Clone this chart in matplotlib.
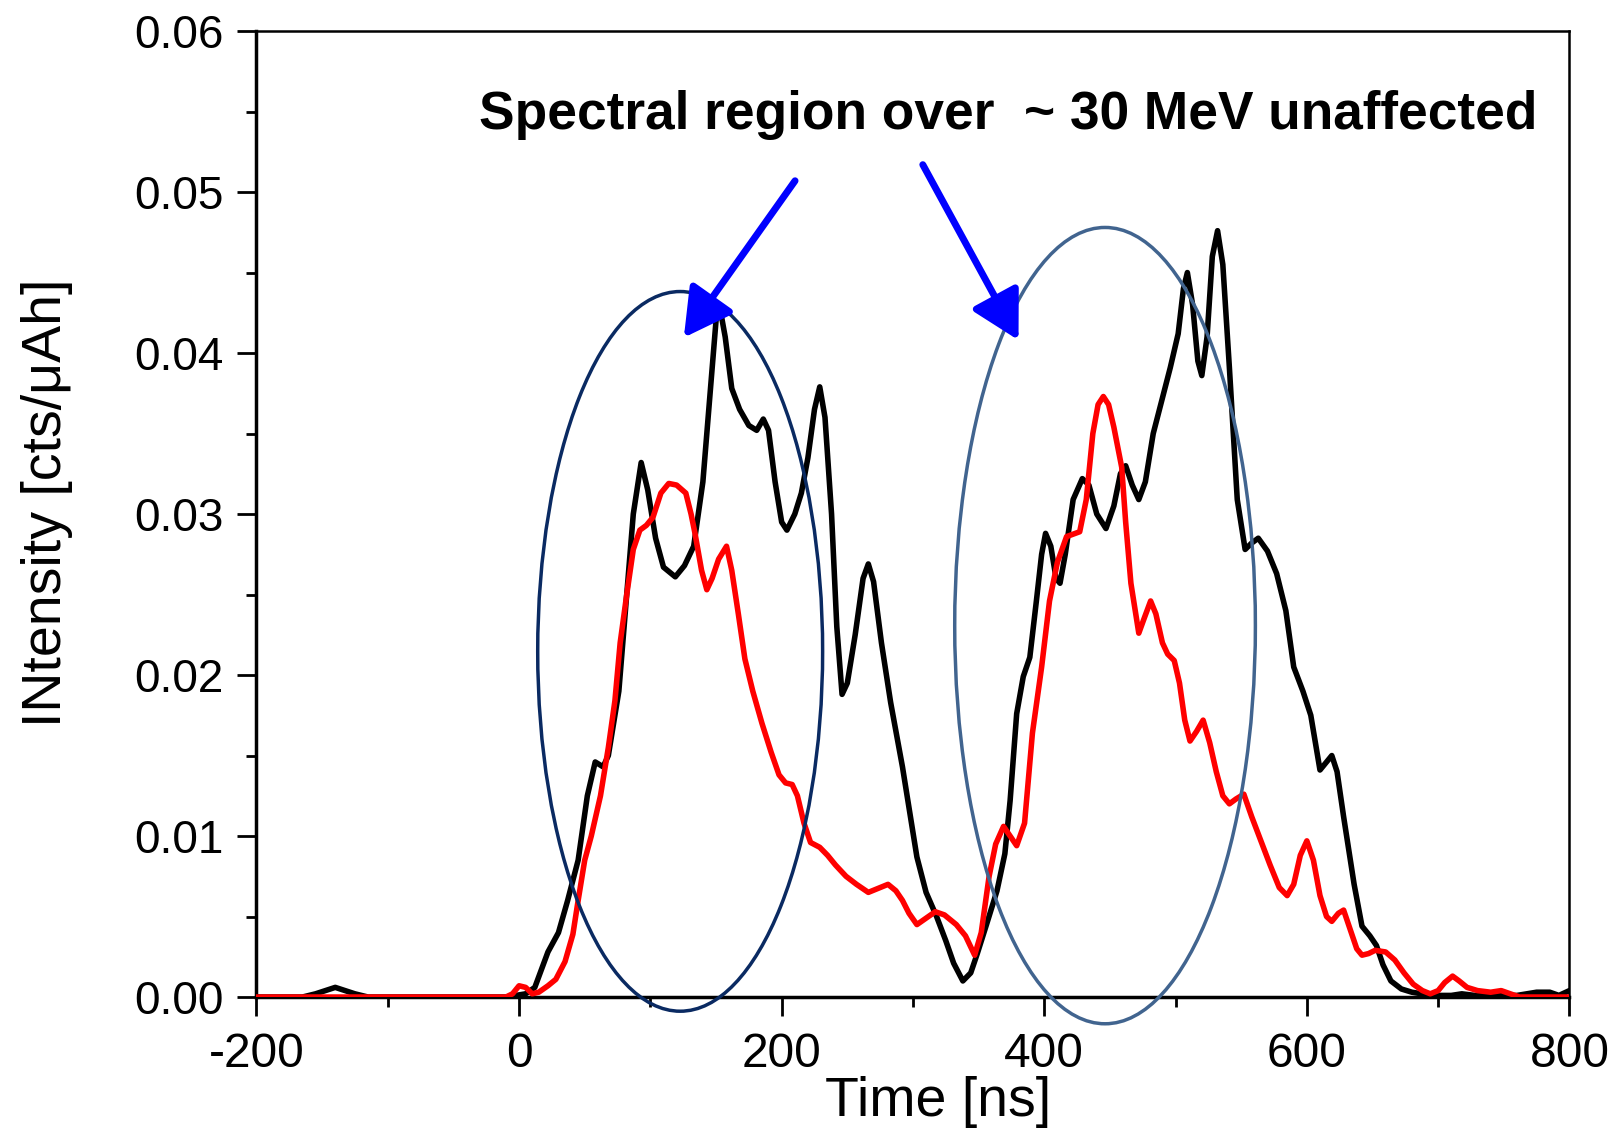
import matplotlib
matplotlib.use("Agg")
import matplotlib.pyplot as plt
from matplotlib.patches import Ellipse
from matplotlib.ticker import MultipleLocator, FormatStrFormatter

plt.rcParams['font.family'] = ['Liberation Sans', 'DejaVu Sans']
plt.rcParams['axes.unicode_minus'] = False

# Time axis [ns] and intensity [cts/uAh]
t_black = [-200, -165, -155, -140, -125, -115, -10, 5, 12, 22, 30, 37, 45, 52, 58, 64,
           68, 76, 82, 87, 93, 98, 104, 110, 119, 126, 133, 140, 146, 150, 153, 157,
           162, 168, 175, 181, 186, 190, 195, 200, 204, 210, 215, 220, 225, 229, 233,
           238, 242, 246, 250, 256, 262, 266, 270, 276, 283, 292, 303, 310, 318, 325,
           331, 338, 344, 349, 356, 364, 370, 374, 379, 384, 389, 394, 398, 401, 405,
           409, 412, 416, 422, 429, 434, 440, 447, 453, 458, 462, 467, 472, 477, 483,
           490, 496, 502, 506, 509, 513, 517, 520, 524, 528, 532, 536, 541, 547, 553,
           558, 563, 570, 577, 584, 590, 597, 603, 610, 615, 619, 623, 628, 636, 642,
           648, 653, 658, 664, 672, 680, 695, 710, 718, 728, 760, 775, 785, 792, 800]
i_black = [0, 0, 0.0002, 0.0006, 0.0002, 0, 0, 0.0002, 0.0006, 0.0028, 0.0040, 0.0060,
           0.0085, 0.0125, 0.0146, 0.0143, 0.0150, 0.0190, 0.0250, 0.0300, 0.0332,
           0.0315, 0.0285, 0.0267, 0.0261, 0.0268, 0.0280, 0.0320, 0.0380, 0.0420,
           0.0428, 0.0410, 0.0378, 0.0365, 0.0355, 0.0352, 0.0359, 0.0352, 0.0320,
           0.0295, 0.0290, 0.0300, 0.0313, 0.0335, 0.0365, 0.0379, 0.0360, 0.0300,
           0.0230, 0.0188, 0.0195, 0.0225, 0.0260, 0.0269, 0.0258, 0.0220, 0.0183,
           0.0143, 0.0087, 0.0065, 0.0050, 0.0035, 0.0021, 0.0010, 0.0015, 0.0027,
           0.0045, 0.0066, 0.0089, 0.0122, 0.0176, 0.0199, 0.0211, 0.0246, 0.0275,
           0.0288, 0.0280, 0.0260, 0.0257, 0.0275, 0.0309, 0.0322, 0.0318, 0.0300,
           0.0291, 0.0305, 0.0325, 0.0330, 0.0318, 0.0309, 0.0320, 0.0350, 0.0372,
           0.0391, 0.0412, 0.0440, 0.0450, 0.0430, 0.0395, 0.0386, 0.0410, 0.0460,
           0.0476, 0.0455, 0.0391, 0.0309, 0.0278, 0.0282, 0.0285, 0.0277, 0.0263,
           0.0240, 0.0205, 0.0190, 0.0175, 0.0141, 0.0146, 0.0150, 0.0140, 0.0112,
           0.0070, 0.0044, 0.0038, 0.0032, 0.0020, 0.0010, 0.0005, 0.0003, 0.0001,
           0.0001, 0.0002, 0.0001, 0.0001, 0.0003, 0.0003, 0.0001, 0.0004]

t_red = [-200, -10, -5, 0, 5, 10, 15, 22, 28, 35, 41, 45, 50, 55, 62, 68, 73, 77, 82,
         87, 92, 97, 102, 108, 114, 120, 127, 131, 134, 139, 143, 147, 152, 158, 162,
         167, 172, 178, 185, 192, 198, 203, 208, 212, 217, 222, 229, 235, 241, 249,
         257, 266, 275, 281, 287, 292, 297, 303, 310, 317, 324, 333, 340, 347, 352,
         358, 363, 369, 374, 379, 385, 391, 398, 404, 410, 417, 427, 432, 437, 441,
         445, 449, 453, 459, 462, 466, 472, 476, 481, 485, 490, 494, 499, 503, 507,
         511, 516, 521, 526, 531, 536, 541, 546, 552, 558, 565, 572, 579, 585, 590,
         595, 600, 605, 610, 615, 619, 624, 628, 633, 638, 642, 647, 652, 660, 667,
         674, 681, 688, 694, 700, 705, 711, 716, 722, 730, 740, 748, 755, 762, 800]
i_red = [0, 0, 0.0002, 0.0007, 0.0006, 0.0002, 0.0003, 0.0007, 0.0011, 0.0022, 0.0039,
         0.0060, 0.0085, 0.0100, 0.0125, 0.0155, 0.0184, 0.0220, 0.0250, 0.0278,
         0.0290, 0.0293, 0.0298, 0.0313, 0.0319, 0.0318, 0.0313, 0.0300, 0.0288,
         0.0265, 0.0253, 0.0260, 0.0272, 0.0280, 0.0265, 0.0238, 0.0210, 0.0190,
         0.0170, 0.0152, 0.0138, 0.0133, 0.0132, 0.0125, 0.0108, 0.0096, 0.0093,
         0.0088, 0.0082, 0.0075, 0.0070, 0.0065, 0.0068, 0.0070, 0.0066, 0.0060,
         0.0052, 0.0045, 0.0049, 0.0053, 0.0051, 0.0045, 0.0038, 0.0026, 0.0040,
         0.0075, 0.0095, 0.0106, 0.0100, 0.0094, 0.0108, 0.0164, 0.0205, 0.0246,
         0.0270, 0.0286, 0.0289, 0.0309, 0.0350, 0.0368, 0.0373, 0.0368, 0.0354,
         0.0329, 0.0295, 0.0257, 0.0226, 0.0235, 0.0246, 0.0238, 0.0220, 0.0213,
         0.0209, 0.0195, 0.0172, 0.0159, 0.0165, 0.0172, 0.0158, 0.0140, 0.0125,
         0.0120, 0.0123, 0.0126, 0.0112, 0.0097, 0.0082, 0.0068, 0.0063, 0.0070,
         0.0088, 0.0097, 0.0085, 0.0063, 0.0050, 0.0047, 0.0052, 0.0054, 0.0042,
         0.0030, 0.0026, 0.0027, 0.0029, 0.0028, 0.0023, 0.0015, 0.0008, 0.0004,
         0.0002, 0.0004, 0.0009, 0.0013, 0.0010, 0.0006, 0.0004, 0.0003, 0.0004,
         0.0002, 0, 0]

fig = plt.figure(figsize=(16.13, 11.33), dpi=100)
ax = fig.add_axes([0.159, 0.12, 0.814, 0.8526])

ax.plot(t_black, i_black, color='black', lw=4, solid_joinstyle='round',
        solid_capstyle='round', zorder=3)
ax.plot(t_red, i_red, color='#ff0000', lw=4, solid_joinstyle='round',
        solid_capstyle='round', zorder=4)

# highlighted regions
ax.add_patch(Ellipse((122.7, 0.02147), 217, 0.0447, fill=False, ec='#0a2a62',
                     lw=2.5, clip_on=False, zorder=5))
ax.add_patch(Ellipse((446.3, 0.02307), 229, 0.04946, fill=False, ec='#41648f',
                     lw=2.5, clip_on=False, zorder=5))

arrow = dict(arrowstyle='-|>,head_length=1.45,head_width=0.8', color='#0000ff',
             lw=5, mutation_scale=20, shrinkA=0, shrinkB=0)
ax.annotate('', xy=(125.5, 0.04096), xytext=(210.2, 0.0507), arrowprops=arrow, zorder=6)
ax.annotate('', xy=(380.4, 0.0408), xytext=(307.5, 0.0517), arrowprops=arrow, zorder=6)

ax.text(372.5, 0.0548, 'Spectral region over  ~ 30 MeV unaffected', fontsize=38.3,
        fontweight='bold', ha='center', va='center', zorder=7)

ax.set_xlim(-200, 800)
ax.set_ylim(0, 0.06)
ax.xaxis.set_major_locator(MultipleLocator(200))
ax.xaxis.set_minor_locator(MultipleLocator(100))
ax.yaxis.set_major_locator(MultipleLocator(0.01))
ax.yaxis.set_minor_locator(MultipleLocator(0.005))
ax.yaxis.set_major_formatter(FormatStrFormatter('%.2f'))
ax.tick_params(axis='both', which='major', width=2, direction='out')
ax.tick_params(axis='y', which='major', length=14, pad=10, labelsize=33)
ax.tick_params(axis='y', which='minor', length=7, width=2)
ax.tick_params(axis='x', which='major', length=14, pad=11, labelsize=34.5)
ax.tick_params(axis='x', which='minor', length=7, width=2)

for side in ['left', 'bottom']:
    ax.spines[side].set_linewidth(2.5)
for side in ['top', 'right']:
    ax.spines[side].set_linewidth(1.8)

ax.set_xlabel('Time [ns]', fontsize=40)
ax.xaxis.set_label_coords(0.519, -0.082)
ax.set_ylabel('INtensity [cts/μAh]', fontsize=40)
ax.yaxis.set_label_coords(-0.14, 0.512)

fig.savefig('out.png', dpi=100)
